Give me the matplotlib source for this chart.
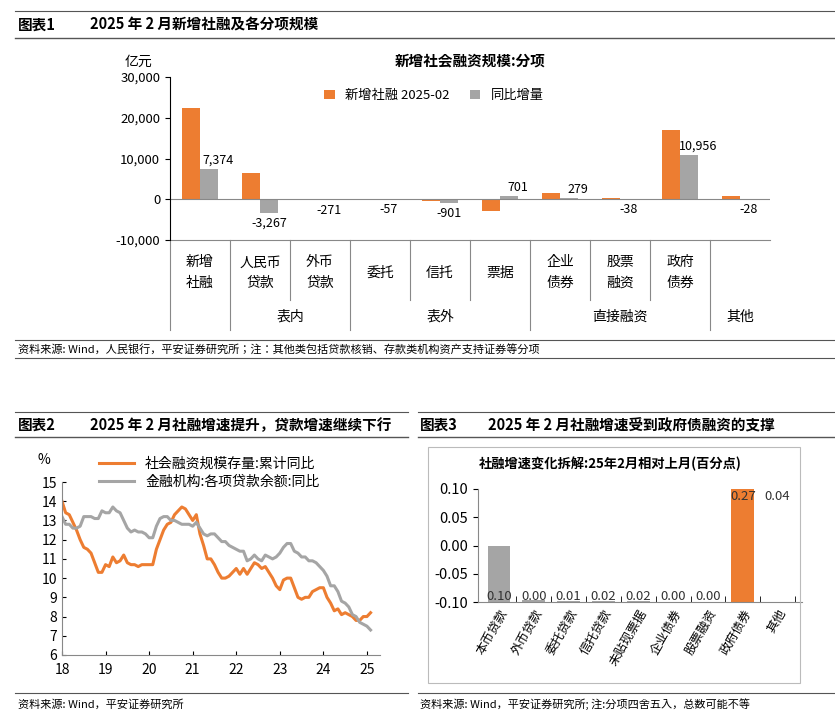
import matplotlib
matplotlib.use("Agg")
import matplotlib.pyplot as plt
from matplotlib.lines import Line2D
from matplotlib.patches import Rectangle
from matplotlib import font_manager

names = {f.name for f in font_manager.fontManager.ttflist}
cjk = [n for n in ["Noto Sans CJK SC", "Noto Sans CJK JP", "Noto Sans CJK TC", "Noto Sans CJK KR"] if n in names]
plt.rcParams["font.family"] = cjk + ["DejaVu Sans"]
ORANGE = "#ED7D31"
GRAY = "#A5A5A5"

# ---- data: chart 1 ----
cats1 = ["新增\n社融", "人民币\n贷款", "外币\n贷款", "委托", "信托", "票据", "企业\n债券", "股票\n融资", "政府\n债券", ""]
new_tsf = [22300, 6500, -300, -150, -400, -2900, 1600, 200, 17000, 900]
yoy_chg = [7374, -3267, -271, -57, -901, 701, 279, -38, 10956, -28]
yticks1 = [-10000, 0, 10000, 20000, 30000]
groups1 = [("表内", 1, 2), ("表外", 3, 5), ("直接融资", 6, 8), ("其他", 9, 9)]

# ---- data: chart 2 ----
tsf_yoy = [14.0,13.4,13.3,12.9,12.5,12.0,11.6,11.5,11.3,10.8,10.3,10.3,
           10.7,10.6,11.1,10.8,10.9,11.2,10.8,10.7,10.7,10.6,10.7,10.7,
           10.7,10.7,11.5,12.0,12.5,12.8,12.9,13.3,13.5,13.7,13.6,13.3,
           13.0,13.3,12.3,11.7,11.0,11.0,10.7,10.3,10.0,10.0,10.1,10.3,
           10.5,10.2,10.5,10.2,10.5,10.8,10.7,10.5,10.6,10.3,10.0,9.6,
           9.4,9.9,10.0,10.0,9.5,9.0,8.9,9.0,9.0,9.3,9.4,9.5,
           9.5,9.0,8.7,8.3,8.4,8.1,8.2,8.1,8.0,7.8,7.8,8.0,
           8.0,8.2]
loan_yoy = [13.2,12.8,12.8,12.6,12.6,12.7,13.2,13.2,13.2,13.1,13.1,13.5,
            13.4,13.4,13.7,13.5,13.4,13.0,12.6,12.4,12.5,12.4,12.4,12.3,
            12.1,12.1,12.7,13.1,13.2,13.2,13.0,13.0,12.9,12.8,12.8,12.8,
            12.7,12.9,12.6,12.3,12.2,12.3,12.3,12.1,11.9,11.9,11.7,11.6,
            11.5,11.4,11.4,10.9,11.0,11.2,11.0,10.9,11.2,11.1,11.0,11.1,
            11.3,11.6,11.8,11.8,11.4,11.3,11.1,11.1,10.9,10.9,10.8,10.6,
            10.4,10.1,9.6,9.6,9.3,8.8,8.7,8.5,8.1,8.0,7.7,7.6,
            7.5,7.3]
years2 = [18, 19, 20, 21, 22, 23, 24, 25]

# ---- data: chart 3 ----
cats3 = ["本币贷款", "外币贷款", "委托贷款", "信托贷款", "未贴现票据", "企业债券", "股票融资", "政府债券", "其他"]
contrib = [0.10, 0.003, 0.002, 0.002, 0.002, 0.00, 0.00, 0.27, 0.0]
labels3 = ["0.10", "0.00", "0.01", "0.02", "0.02", "0.00", "0.00", "0.27", "0.04"]

W, H = 835, 719
fig = plt.figure(figsize=(W/100, H/100), dpi=100)

def fx(x): return x / W
def fy(y): return 1 - y / H
def hline(x0, x1, y, lw=1.0, c="#555555"):
    fig.add_artist(Line2D([fx(x0), fx(x1)], [fy(y), fy(y)], color=c, lw=lw))

# headers
hline(15, 835, 11, 0.8)
fig.text(fx(18), fy(25), "图表1", fontsize=10.5, fontweight="bold", va="center")
fig.text(fx(90), fy(25), "2025 年 2 月新增社融及各分项规模", fontsize=10.5, fontweight="bold", va="center")
hline(15, 835, 38, 1.0)
hline(15, 835, 340, 0.8)
fig.text(fx(18), fy(349), "资料来源: Wind，人民银行，平安证券研究所；注：其他类包括贷款核销、存款类机构资产支持证券等分项",
         fontsize=8, style="italic", va="center")
hline(15, 835, 358, 0.8)

hline(15, 408, 412, 0.8)
fig.text(fx(18), fy(425), "图表2", fontsize=10.5, fontweight="bold", va="center")
fig.text(fx(90), fy(425), "2025 年 2 月社融增速提升，贷款增速继续下行", fontsize=10.5, fontweight="bold", va="center")
hline(15, 408, 437, 1.0)
hline(418, 835, 412, 0.8)
fig.text(fx(420), fy(425), "图表3", fontsize=10.5, fontweight="bold", va="center")
fig.text(fx(488), fy(425), "2025 年 2 月社融增速受到政府债融资的支撑", fontsize=10.5, fontweight="bold", va="center")
hline(418, 835, 437, 1.0)
hline(15, 408, 693, 0.8)
hline(418, 835, 693, 0.8)
fig.text(fx(18), fy(704), "资料来源: Wind，平安证券研究所", fontsize=8, style="italic", va="center")
fig.text(fx(420), fy(704), "资料来源: Wind，平安证券研究所; 注:分项四舍五入，总数可能不等", fontsize=8, style="italic", va="center")

# ---- chart 1 ----
ax1 = fig.add_axes([fx(170), fy(240), fx(770)-fx(170), fy(77)-fy(240)])
x = list(range(len(cats1)))
w = 0.3
ax1.bar([i - w/2 for i in x], new_tsf, w, color=ORANGE, label="新增社融 2025-02")
ax1.bar([i + w/2 for i in x], yoy_chg, w, color=GRAY, label="同比增量")
for i, v in enumerate(yoy_chg):
    ax1.text(i + w/2 + (0.15 if v > 0 else 0), v + (600 if v > 0 else -900), f"{v:,}",
             ha="center", va="bottom" if v > 0 else "top", fontsize=9)
ax1.set_xlim(-0.5, len(cats1) - 0.5)
ax1.set_ylim(-10000, 30000)
ax1.set_yticks(yticks1)
ax1.set_yticklabels([f"{t:,}" for t in yticks1], fontsize=9.5)
ax1.set_xticks([])
for s in ["top", "right", "bottom"]:
    ax1.spines[s].set_visible(False)
ax1.axhline(0, color="#888888", lw=0.8)
ax1.plot([-0.5, 9.5], [-10000, -10000], color="#888888", lw=0.8, clip_on=False)
fig.text(fx(125), fy(62), "亿元", fontsize=10, va="center")
fig.text(fx(470), fy(60), "新增社会融资规模:分项", fontsize=10.5, fontweight="bold", ha="center", va="center")
ax1.legend(loc="upper center", bbox_to_anchor=(0.44, 1.0), ncol=2, frameon=False, fontsize=9.5,
           handlelength=0.8, columnspacing=1.5)
tr = ax1.get_xaxis_transform()
long_b = {-0.5, 0.5, 2.5, 5.5, 8.5}
for b in [k + 0.5 for k in range(-1, 10)]:
    bottom = -0.55 if b in long_b else -0.37
    if b == 9.5:
        continue
    ax1.plot([b, b], [0, bottom], color="#888888", lw=0.8, transform=tr, clip_on=False)
for i, c in enumerate(cats1):
    ax1.text(i, -0.2, c, transform=tr, ha="center", va="center", fontsize=10, linespacing=1.6)
for name, a, b in groups1:
    ax1.text((a + b) / 2, -0.47, name, transform=tr, ha="center", va="center", fontsize=10)

# ---- chart 2 ----
ax2 = fig.add_axes([fx(62), fy(655), fx(380)-fx(62), fy(482)-fy(655)])
t = [18 + i/12 for i in range(len(tsf_yoy))]
ax2.plot(t, tsf_yoy, color=ORANGE, lw=2.2, label="社会融资规模存量:累计同比")
ax2.plot(t[:len(loan_yoy)], loan_yoy, color=GRAY, lw=2.2, label="金融机构:各项贷款余额:同比")
ax2.set_ylim(6, 15)
ax2.set_yticks(range(6, 16))
ax2.set_xlim(18, 25.3)
ax2.set_xticks(years2)
ax2.tick_params(labelsize=10, direction="in", length=3)
ax2.tick_params(axis="x", pad=6)
for s in ["top", "right"]:
    ax2.spines[s].set_visible(False)
for s in ["left", "bottom"]:
    ax2.spines[s].set_color("#888888")
fig.text(fx(38), fy(460), "%", fontsize=10, va="center")
ax2.legend(loc="lower left", bbox_to_anchor=(0.1, 0.93), frameon=False, fontsize=10,
           handlelength=2.5, borderaxespad=0, labelspacing=0.3)

# ---- chart 3 ----
fig.add_artist(Rectangle((fx(428), fy(683)), fx(800)-fx(428), fy(447)-fy(683), fill=False,
                         edgecolor="#bbbbbb", lw=0.8, transform=fig.transFigure))
ax3 = fig.add_axes([fx(478), fy(602), fx(802)-fx(478), fy(489)-fy(602)])
colors3 = [GRAY] * 7 + [ORANGE, GRAY]
ax3.bar(range(len(cats3)), contrib, 0.65, bottom=-0.10, color=colors3)
ax3.set_ylim(-0.10, 0.10)
ax3.set_yticks([-0.10, -0.05, 0.00, 0.05, 0.10])
ax3.set_yticklabels(["-0.10", "-0.05", "0.00", "0.05", "0.10"], fontsize=10.5)
ax3.set_xlim(-0.6, 8.7)
ax3.set_xticks([i + 0.5 for i in range(len(cats3))], minor=True)
ax3.set_xticks(range(len(cats3)))
ax3.set_xticklabels(cats3, rotation=60, ha="right", rotation_mode="anchor", fontsize=9)
ax3.tick_params(axis="x", which="major", length=0)
ax3.tick_params(axis="x", which="minor", length=4, direction="in")
for s in ["top", "right"]:
    ax3.spines[s].set_visible(False)
for s in ["left", "bottom"]:
    ax3.spines[s].set_color("#888888")
for i, lab in enumerate(labels3):
    y = -0.09 if i < 7 else 0.087
    ax3.text(i, y, lab, ha="center", va="center", fontsize=9.5, color="#333333")
fig.text(fx(610), fy(464), "社融增速变化拆解:25年2月相对上月(百分点)", fontsize=9.5, fontweight="bold",
         ha="center", va="center")

fig.savefig("out.png", dpi=100)
